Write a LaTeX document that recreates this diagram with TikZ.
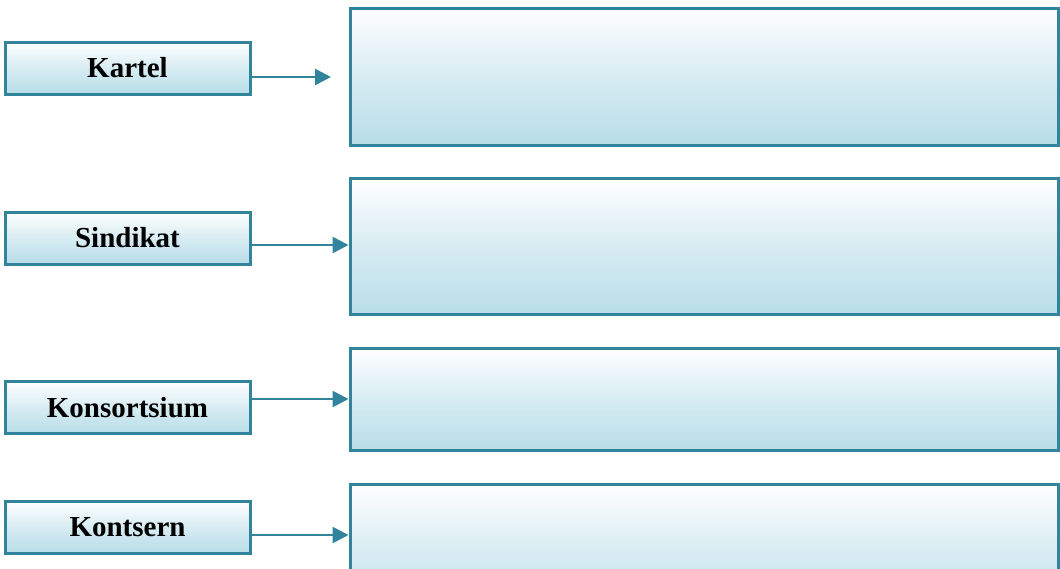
\documentclass[tikz,border=0pt]{standalone}
\usepackage{fontspec}
\setmainfont{Liberation Serif}
\usetikzlibrary{arrows.meta}
\definecolor{edge}{RGB}{49,132,155}
\definecolor{fillb}{RGB}{183,221,232}
\tikzset{
  box/.style={draw=edge, line width=3pt, top color=white, bottom color=fillb, middle color=fillb!55, shading angle=0, inner sep=0pt},
  label/.style={box, minimum width=245pt, minimum height=52pt, font=\fontsize{29}{34}\selectfont\bfseries},
  big/.style={box, minimum width=708pt},
  arr/.style={draw=edge, line width=2.7pt, -{Triangle[length=16pt,width=16pt]}}
}
\begin{document}
\begin{tikzpicture}[x=1pt,y=-1pt]
\useasboundingbox (0,0) rectangle (1060,568);
\clip (0,0) rectangle (1060,568);
\node[label] (k1) at (127.5,68) {Kartel};
\node[label] (s1) at (127.5,238) {Sindikat};
\node[label] (ko1) at (127.5,407.5) {Konsortsium};
\node[label] (kt1) at (127.5,527) {Kontsern};
\node[big, minimum height=137pt] (b1) at (704,76.5) {};
\node[big, minimum height=136pt] (b2) at (704,246) {};
\node[big, minimum height=102pt] (b3) at (704,399) {};
\node[big, minimum height=136pt] (b4) at (704,552) {};
\coordinate (t1) at (331,77);
\draw[arr] (k1.east |- t1) -- (t1);
\draw[arr] (s1.east |- 0,245) -- (b2.west |- 0,245);
\draw[arr] (ko1.east |- 0,399) -- (b3.west |- 0,399);
\draw[arr] (kt1.east |- 0,535) -- (b4.west |- 0,535);
\end{tikzpicture}
\end{document}
